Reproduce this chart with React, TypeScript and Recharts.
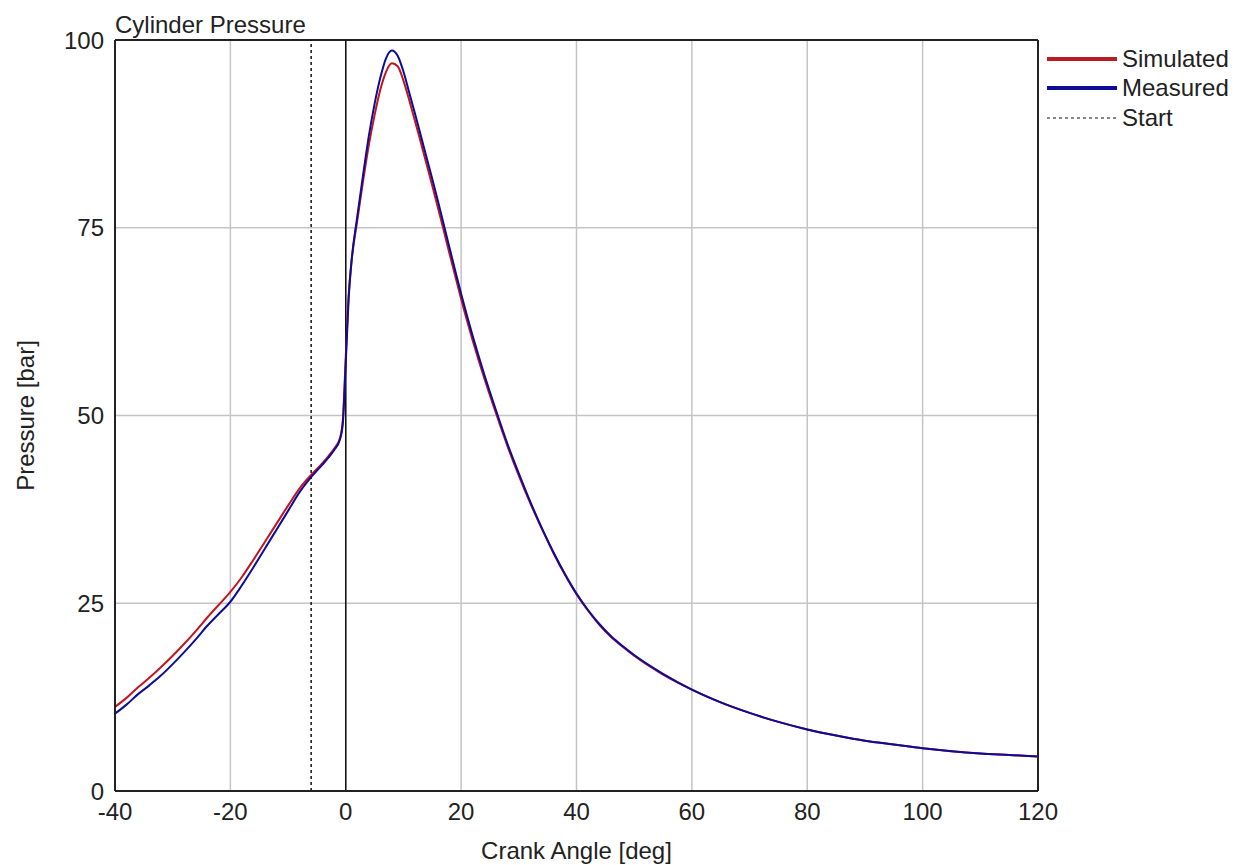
import {
  LineChart,
  Line,
  XAxis,
  YAxis,
  CartesianGrid,
  ReferenceLine,
  Legend,
} from 'recharts';

// crank angle [deg]
const angles = [
  -40, -38, -36, -34, -32, -30, -28, -26, -24, -22, -20, -18, -16, -14, -12, -10, -8, -6, -4, -3, -2, -1,
  -0.5, 0, 0.5, 1, 2, 3, 4, 5, 6, 7, 8, 9, 10, 11, 12, 13, 14, 15, 16, 17, 18, 19, 20, 22, 24, 26, 28,
  30, 32, 34, 36, 38, 40, 42, 44, 46, 48, 50, 55, 60, 65, 70, 75, 80, 85, 90, 95, 100, 105, 110, 115, 120,
];

// pressure [bar]
const simulated = [
  11.2, 12.4, 13.8, 15.1, 16.5, 18.0, 19.6, 21.3, 23.1, 24.8, 26.5, 28.5, 30.8, 33.2, 35.6, 38.0, 40.3,
  42.1, 43.7, 44.6, 45.6, 47.0, 49.5, 57.8, 66.0, 70.5, 76.0, 81.2, 86.0, 90.0, 93.4, 95.8, 96.9, 96.5,
  94.6, 92.0, 89.2, 86.4, 83.5, 80.6, 77.6, 74.6, 71.5, 68.5, 65.5, 60.0, 55.0, 50.4, 46.0, 42.0, 38.3,
  34.9, 31.7, 28.8, 26.2, 24.0, 22.1, 20.5, 19.2, 18.0, 15.5, 13.5, 11.8, 10.4, 9.2, 8.2, 7.4, 6.7, 6.2,
  5.7, 5.3, 5.0, 4.8, 4.6,
];

const measured = [
  10.3, 11.5, 12.9, 14.1, 15.4, 16.9, 18.5, 20.2, 22.0, 23.6, 25.2, 27.4, 29.8, 32.3, 34.8, 37.3, 39.8,
  41.8, 43.5, 44.4, 45.4, 46.8, 49.0, 57.0, 65.5, 70.5, 76.5, 82.0, 87.2, 91.5, 95.0, 97.6, 98.6, 97.9,
  95.8, 93.0, 90.2, 87.3, 84.4, 81.5, 78.5, 75.4, 72.3, 69.2, 66.2, 60.6, 55.5, 50.8, 46.3, 42.3, 38.5,
  35.0, 31.8, 28.9, 26.3, 24.1, 22.2, 20.6, 19.3, 18.1, 15.6, 13.5, 11.8, 10.4, 9.2, 8.2, 7.4, 6.7, 6.2,
  5.7, 5.3, 5.0, 4.8, 4.6,
];

const xTicks = [-40, -20, 0, 20, 40, 60, 80, 100, 120];
const yTicks = [0, 25, 50, 75, 100];
const startAngle = -6;

const data = angles.map((angle, i) => ({
  angle,
  simulated: simulated[i],
  measured: measured[i],
}));

const FONT = '"Liberation Sans", Arial, sans-serif';
const RED = '#c4151c';
const BLUE = '#0c0c98';

const legendItems = [
  { label: 'Simulated', color: '#b81d24', width: 4, dash: undefined },
  { label: 'Measured', color: '#0c0c98', width: 4, dash: undefined },
  { label: 'Start', color: '#111', width: 1, dash: '3 3' },
];

const PressureLegend = () => (
  <div style={{ fontFamily: FONT, fontSize: 24, color: '#222', whiteSpace: 'nowrap' }}>
    {legendItems.map((item) => (
      <div key={item.label} style={{ display: 'flex', alignItems: 'center', height: 29.5 }}>
        <svg width={70} height={8} style={{ marginRight: 5, flex: 'none' }}>
          <line
            x1={0}
            x2={70}
            y1={4}
            y2={4}
            stroke={item.color}
            strokeWidth={item.width}
            strokeDasharray={item.dash}
          />
        </svg>
        <span style={{ lineHeight: 1 }}>{item.label}</span>
      </div>
    ))}
  </div>
);

export default function App() {
  return (
    <div style={{ position: 'relative', width: 1229, height: 857 }}>
      <div
        style={{
          position: 'absolute',
          left: 107,
          top: 5,
          fontFamily: FONT,
          fontSize: 24,
          lineHeight: '24px',
          color: '#222',
          zIndex: 2,
        }}
      >
        Cylinder Pressure
      </div>
      <LineChart
        width={1229}
        height={857}
        data={data}
        margin={{ top: 32, right: 199, left: 0, bottom: 1 }}
        style={{ fontFamily: FONT }}
      >
        <CartesianGrid stroke="#c4c4c4" strokeWidth={1.5} />
        <XAxis
          dataKey="angle"
          type="number"
          domain={[-40, 120]}
          ticks={xTicks}
          tickLine={false}
          tickMargin={6}
          height={73}
          axisLine={{ stroke: '#222', strokeWidth: 2 }}
          tick={{ fill: '#222', fontSize: 24 }}
          label={{
            value: 'Crank Angle [deg]',
            position: 'insideBottom',
            offset: 5,
            fill: '#222',
            fontSize: 24,
          }}
        />
        <YAxis
          type="number"
          domain={[0, 100]}
          ticks={yTicks}
          tickLine={false}
          tickMargin={5}
          width={107}
          axisLine={{ stroke: '#222', strokeWidth: 2 }}
          tick={{ fill: '#222', fontSize: 24 }}
          label={{
            value: 'Pressure [bar]',
            angle: -90,
            position: 'insideLeft',
            dx: 12,
            fill: '#222',
            fontSize: 24,
            style: { textAnchor: 'middle' },
          }}
        />
        <ReferenceLine y={100} stroke="#222" strokeWidth={2} />
        <ReferenceLine x={120} stroke="#222" strokeWidth={2} />
        <ReferenceLine x={0} stroke="#111" strokeWidth={1.5} />
        <ReferenceLine x={startAngle} stroke="#111" strokeWidth={1.5} strokeDasharray="3 3" />
        <Legend
          layout="horizontal"
          align="center"
          verticalAlign="middle"
          content={<PressureLegend />}
          wrapperStyle={{ left: 1039, top: 36, width: 190, height: 90 }}
        />
        <Line
          type="monotone"
          dataKey="simulated"
          stroke={RED}
          strokeWidth={2}
          dot={false}
          activeDot={false}
          isAnimationActive={false}
        />
        <Line
          type="monotone"
          dataKey="measured"
          stroke={BLUE}
          strokeWidth={2}
          dot={false}
          activeDot={false}
          isAnimationActive={false}
        />
      </LineChart>
    </div>
  );
}
